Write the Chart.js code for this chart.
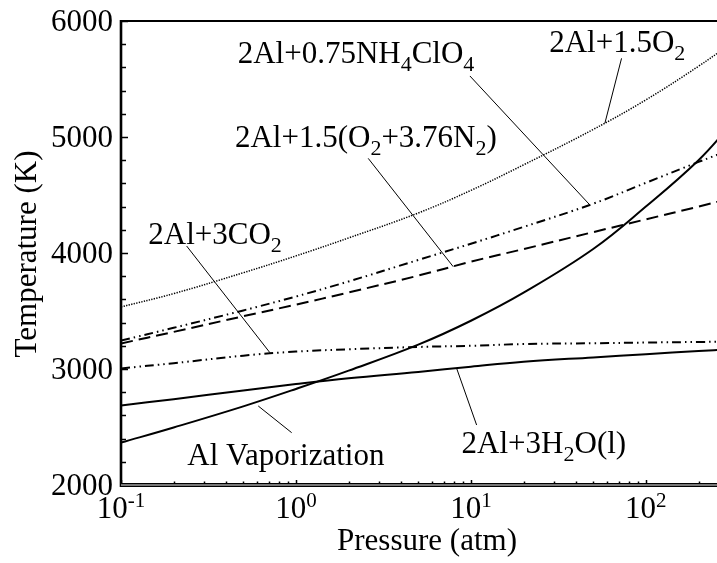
<!DOCTYPE html>
<html><head><meta charset="utf-8">
<script src="https://cdn.jsdelivr.net/npm/chart.js@4/dist/chart.umd.min.js"></script>
<style>html,body{margin:0;padding:0;background:#fff;}#wrap{width:717px;height:563px;}</style>
</head><body><div id="wrap"><canvas id="c" width="717" height="563"></canvas></div>
<script>
// ---- data ----
const pressure   = [0.1, 0.2, 0.5, 1, 2, 5, 10, 20, 50, 100, 200, 300];
const tO2        = [3535, 3650, 3830, 3975, 4130, 4345, 4540, 4760, 5065, 5320, 5610, 5795];
const tNH4ClO4   = [3245, 3355, 3505, 3625, 3755, 3940, 4080, 4225, 4425, 4605, 4785, 4886];
const tAir       = [3220, 3320, 3455, 3555, 3660, 3805, 3925, 4034, 4180, 4290, 4400, 4469];
const tCO2       = [3005, 3050, 3115, 3150, 3170, 3190, 3200, 3215, 3222, 3228, 3233, 3236];
const tH2O       = [2685, 2740, 2815, 2870, 2920, 2975, 3020, 3062, 3100, 3128, 3155, 3170];
const tAlVap     = [2365, 2496, 2678, 2828, 2986, 3210, 3416, 3658, 4034, 4400, 4800, 5090];

const xMajor     = [0.1, 1, 10, 100];
const xMajorExp  = ['-1', '0', '1', '2'];
const yMajor     = [2000, 3000, 4000, 5000, 6000];
const yMajorText = ['2000', '3000', '4000', '5000', '6000'];
const xTitle = 'Pressure (atm)';
const yTitle = 'Temperature (K)';

// annotation labels: [text, pressure, temperature]  (_X = subscript)
const labelText = ['2Al+0.75NH_4ClO_4', '2Al+1.5O_2', '2Al+1.5(O_2+3.76N_2)', '2Al+3CO_2', 'Al Vaporization', '2Al+3H_2O(l)'];
const labelP    = [0.4644, 28.02, 0.448, 0.1432, 0.2392, 8.849];
const labelT    = [5635, 5735, 4916, 4078, 2172, 2280];
// leader lines: from (p1,T1) to (p2,T2)
const leadP1 = [9.87, 72.6, 2.588, 0.2373, 0.945, 10.78];
const leadT1 = [5526, 5678, 4816, 4060, 2451, 2517];
const leadP2 = [47.86, 58.3, 7.923, 0.7102, 0.6089, 8.286];
const leadT2 = [4414, 5118, 3882, 3140, 2681, 3006];

const FONT = "'Liberation Serif', 'Times New Roman', serif";
const pts = arr => pressure.map((p, i) => ({x: p, y: arr[i]}));

function ds(label, arr, width, dash) {
  return {label, data: pts(arr), borderColor: '#000', backgroundColor: '#000',
    borderWidth: width, borderDash: dash, pointRadius: 0, fill: false,
    tension: 0.4};
}

function drawRich(ctx, str, x, y, size, subSize, subDy) {
  const segs = [];
  for (let i = 0; i < str.length; i++) {
    if (str[i] === '_' && i + 1 < str.length) { segs.push({t: str[i+1], sub: true}); i++; }
    else {
      if (segs.length && !segs[segs.length-1].sub) segs[segs.length-1].t += str[i];
      else segs.push({t: str[i], sub: false});
    }
  }
  let cx = x;
  ctx.textAlign = 'left';
  ctx.textBaseline = 'alphabetic';
  for (const s of segs) {
    ctx.font = (s.sub ? subSize : size) + 'px ' + FONT;
    ctx.fillText(s.t, cx, s.sub ? y + subDy : y);
    cx += ctx.measureText(s.t).width;
  }
}

const decor = {
  id: 'decor',
  afterDraw(chart) {
    const ctx = chart.ctx, xs = chart.scales.x, ys = chart.scales.y, a = chart.chartArea;
    ctx.save();
    ctx.fillStyle = '#000';
    ctx.strokeStyle = '#000';
    // leader lines
    ctx.lineWidth = 1;
    for (let i = 0; i < leadP1.length; i++) {
      ctx.beginPath();
      ctx.moveTo(xs.getPixelForValue(leadP1[i]), ys.getPixelForValue(leadT1[i]));
      ctx.lineTo(xs.getPixelForValue(leadP2[i]), ys.getPixelForValue(leadT2[i]));
      ctx.stroke();
    }
    // labels
    for (let i = 0; i < labelText.length; i++) {
      drawRich(ctx, labelText[i], xs.getPixelForValue(labelP[i]), ys.getPixelForValue(labelT[i]), 31, 22, 8);
    }
    // y ticks (major + minor, inward)
    ctx.lineWidth = 1.5;
    for (let v = ys.min; v <= ys.max; v += 200) {
      const y = Math.round(ys.getPixelForValue(v)) + 0.5;
      const len = (v % 1000 === 0) ? 7 : 5;
      ctx.beginPath(); ctx.moveTo(a.left, y); ctx.lineTo(a.left + len, y); ctx.stroke();
    }
    // x ticks
    for (const d of xMajor) {
      for (let m = 1; m <= 9; m++) {
        const v = d * m;
        if (v < xs.min - 1e-9 || v > xs.max) continue;
        const x = Math.round(xs.getPixelForValue(v)) + 0.5;
        const len = m === 1 ? 5 : 3.5;
        ctx.beginPath(); ctx.moveTo(x, a.bottom); ctx.lineTo(x, a.bottom - len); ctx.stroke();
      }
    }
    // frame
    ctx.lineWidth = 2;
    ctx.beginPath(); ctx.moveTo(a.left, a.top); ctx.lineTo(a.right, a.top); ctx.stroke();
    ctx.lineWidth = 2.6;
    ctx.beginPath(); ctx.moveTo(a.left, a.top - 1); ctx.lineTo(a.left, a.bottom + 2); ctx.stroke();
    // bottom double axis
    ctx.lineWidth = 3.5; ctx.strokeStyle = '#777';
    ctx.beginPath(); ctx.moveTo(a.left, a.bottom); ctx.lineTo(a.right, a.bottom); ctx.stroke();
    ctx.strokeStyle = '#000'; ctx.lineWidth = 1;
    ctx.beginPath(); ctx.moveTo(a.left, a.bottom - 1.5); ctx.lineTo(a.right, a.bottom - 1.5); ctx.stroke();
    ctx.beginPath(); ctx.moveTo(a.left, a.bottom + 1.5); ctx.lineTo(a.right, a.bottom + 1.5); ctx.stroke();

    // y tick labels
    ctx.font = '31px ' + FONT;
    ctx.textAlign = 'right'; ctx.textBaseline = 'middle';
    for (let i = 0; i < yMajor.length; i++) {
      ctx.fillText(yMajorText[i], a.left - 8, ys.getPixelForValue(yMajor[i]) + 2);
    }
    // x tick labels 10^n
    ctx.textBaseline = 'alphabetic'; ctx.textAlign = 'left';
    for (let i = 0; i < xMajor.length; i++) {
      const x = xs.getPixelForValue(xMajor[i]);
      ctx.font = '31px ' + FONT; const wb = ctx.measureText('10').width;
      ctx.font = '21px ' + FONT; const we = ctx.measureText(xMajorExp[i]).width;
      const x0 = x - (wb + we) / 2;
      ctx.font = '31px ' + FONT; ctx.fillText('10', x0, 518);
      ctx.font = '21px ' + FONT; ctx.fillText(xMajorExp[i], x0 + wb, 507);
    }
    // axis titles
    ctx.font = '31px ' + FONT;
    ctx.textAlign = 'center';
    ctx.fillText(xTitle, 427, 550);
    ctx.save();
    ctx.translate(36, 254);
    ctx.rotate(-Math.PI / 2);
    ctx.fillText(yTitle, 0, 0);
    ctx.restore();
    ctx.restore();
  }
};

new Chart(document.getElementById('c'), {
  type: 'line',
  data: {datasets: [
    ds('2Al+1.5O2', tO2, 1.5, [1.3, 1.3]),
    ds('2Al+0.75NH4ClO4', tNH4ClO4, 2, [9, 4, 1.5, 4, 1.5, 4]),
    ds('2Al+1.5(O2+3.76N2)', tAir, 2, [12, 6]),
    ds('2Al+3CO2', tCO2, 2, [9, 4, 1.5, 4, 1.5, 4]),
    ds('2Al+3H2O(l)', tH2O, 2, []),
    ds('Al Vaporization', tAlVap, 2, [])
  ]},
  options: {
    responsive: false, animation: false, devicePixelRatio: 1,
    layout: {padding: {left: 121, top: 21, right: 0, bottom: 78}},
    plugins: {legend: {display: false}, tooltip: {enabled: false}},
    scales: {
      x: {type: 'logarithmic', min: 0.1, max: 255, display: false},
      y: {type: 'linear', min: 2000, max: 6000, display: false}
    }
  },
  plugins: [decor]
});
</script>
</body></html>
